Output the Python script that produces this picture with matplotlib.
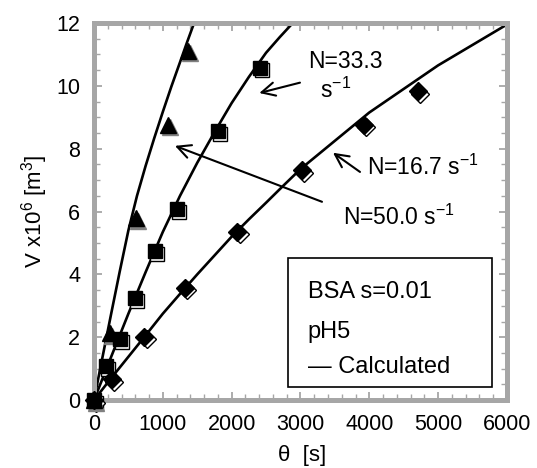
import matplotlib
matplotlib.use("Agg")
import matplotlib.pyplot as plt
from matplotlib.ticker import MultipleLocator
from matplotlib.transforms import offset_copy
from matplotlib.patches import Rectangle

plt.rcParams['font.family'] = ['Liberation Sans', 'DejaVu Sans']
plt.rcParams['mathtext.fontset'] = 'custom'
plt.rcParams['mathtext.rm'] = 'Liberation Sans'
plt.rcParams['mathtext.it'] = 'Liberation Sans'

# Measured data
t50 = [0, 232, 610, 1075, 1366]
v50 = [0, 2.13, 5.78, 8.76, 11.12]
t33 = [0, 174, 378, 596, 886, 1206, 1802, 2412]
v33 = [0, 1.08, 1.93, 3.24, 4.74, 6.07, 8.55, 10.57]
t17 = [0, 261, 727, 1322, 2080, 3022, 3922, 4707]
v17 = [0, 0.67, 2.02, 3.57, 5.35, 7.32, 8.76, 9.82]

# Calculated curves
ct50 = [0, 125, 250, 375, 500, 625, 750, 875, 1000, 1125, 1250, 1350, 1450]
cv50 = [0, 1.38, 2.75, 4.10, 5.40, 6.50, 7.45, 8.33, 9.17, 9.98, 10.75, 11.37, 11.97]
ct33 = [0, 250, 500, 750, 1000, 1250, 1500, 1750, 2000, 2250, 2500, 2700, 2890]
cv33 = [0, 1.38, 2.75, 4.07, 5.35, 6.50, 7.55, 8.52, 9.45, 10.28, 11.05, 11.55, 12.0]
ct17 = [0, 250, 500, 750, 1000, 1250, 1500, 1750, 2000, 2250, 2500, 2750, 3000,
        3250, 3500, 3750, 4000, 4500, 5000, 5500, 6000]
cv17 = [0, 0.70, 1.38, 2.06, 2.75, 3.38, 4.00, 4.60, 5.20, 5.75, 6.28, 6.82, 7.35,
        7.80, 8.25, 8.70, 9.15, 9.90, 10.65, 11.30, 11.95]

fig = plt.figure(figsize=(5.37, 4.68), dpi=100)
ax = fig.add_axes([0.175, 0.145, 0.769, 0.806])

lw = 1.9
for cx, cy in ((ct50, cv50), (ct33, cv33), (ct17, cv17)):
    ax.plot(cx, cy, color='black', lw=lw, zorder=2, solid_joinstyle='round')

sh = offset_copy(ax.transData, fig=fig, x=2.5, y=-2.5, units='dots')
# shadows
ax.plot(t33, v33, ls='none', marker='s', ms=9.5, mfc='white', mec='black', mew=1.0,
        transform=sh, zorder=3, clip_on=False)
ax.plot(t17, v17, ls='none', marker='D', ms=9, mfc='white', mec='black', mew=1.0,
        transform=sh, zorder=3, clip_on=False)
ax.plot(t50, v50, ls='none', marker='^', ms=12, mfc='#808080', mec='#808080', mew=1.0,
        transform=sh, zorder=3, clip_on=False)
# filled markers
ax.plot(t33, v33, ls='none', marker='s', ms=9.5, mfc='black', mec='black', zorder=4, clip_on=False)
ax.plot(t17, v17, ls='none', marker='D', ms=9, mfc='black', mec='black', zorder=4, clip_on=False)
ax.plot(t50, v50, ls='none', marker='^', ms=12, mfc='black', mec='black', zorder=4, clip_on=False)

ax.set_xlim(0, 6000)
ax.set_ylim(0, 12)
ax.xaxis.set_major_locator(MultipleLocator(1000))
ax.xaxis.set_minor_locator(MultipleLocator(200))
ax.yaxis.set_major_locator(MultipleLocator(2))
ax.yaxis.set_minor_locator(MultipleLocator(0.5))

gray = '#a6a6a6'
for s in ax.spines.values():
    s.set_color(gray)
    s.set_linewidth(3.6)
ax.tick_params(which='both', direction='in', top=True, right=True, color=gray,
               labelsize=15.5, labelcolor='black')
ax.tick_params(which='major', length=6, width=1.3)
ax.tick_params(axis='y', which='major', pad=10)
ax.tick_params(axis='x', which='major', pad=10)
ax.tick_params(which='minor', length=4, width=1.0)

ax.set_xlabel('θ  [s]', fontsize=16)
ax.set_ylabel(r'V x10$^6$ [m$^3$]', fontsize=16)
ax.xaxis.set_label_coords(0.504, -0.146, transform=ax.transAxes)
ax.xaxis.label.set_va('center')
ax.yaxis.set_label_coords(-0.143, 0.5, transform=ax.transAxes)
ax.yaxis.label.set_va('center')

ap = dict(arrowstyle='->', color='black', lw=1.5, mutation_scale=24, shrinkA=0, shrinkB=0)
ax.annotate('', xy=(2402, 9.77), xytext=(2993, 10.10), arrowprops=ap, zorder=5)
ax.annotate('', xy=(3473, 7.87), xytext=(3865, 7.26), arrowprops=ap, zorder=5)
ax.annotate('', xy=(1177, 8.09), xytext=(3313, 6.31), arrowprops=ap, zorder=5)

fs = 16.5
ax.text(3109, 10.76, 'N=33.3', fontsize=fs, va='center', ha='left')
ax.text(3284, 9.87, r's$^{-1}$', fontsize=fs, va='center', ha='left')
ax.text(3967, 7.42, r'N=16.7 s$^{-1}$', fontsize=fs, va='center', ha='left')
ax.text(3618, 5.83, r'N=50.0 s$^{-1}$', fontsize=fs, va='center', ha='left')

ax.add_patch(Rectangle((0.470, 0.0345), 0.494, 0.3425, transform=ax.transAxes,
                       fill=True, facecolor='white', edgecolor='black', lw=1.2, zorder=6))
fl = 17
ax.text(0.518, 0.286, 'BSA s=0.01', transform=ax.transAxes, fontsize=fl, va='center', zorder=7)
ax.text(0.518, 0.180, 'pH5', transform=ax.transAxes, fontsize=fl, va='center', zorder=7)
ax.text(0.518, 0.0875, '— Calculated', transform=ax.transAxes, fontsize=fl, va='center', zorder=7)

fig.savefig('out.png', dpi=100)
